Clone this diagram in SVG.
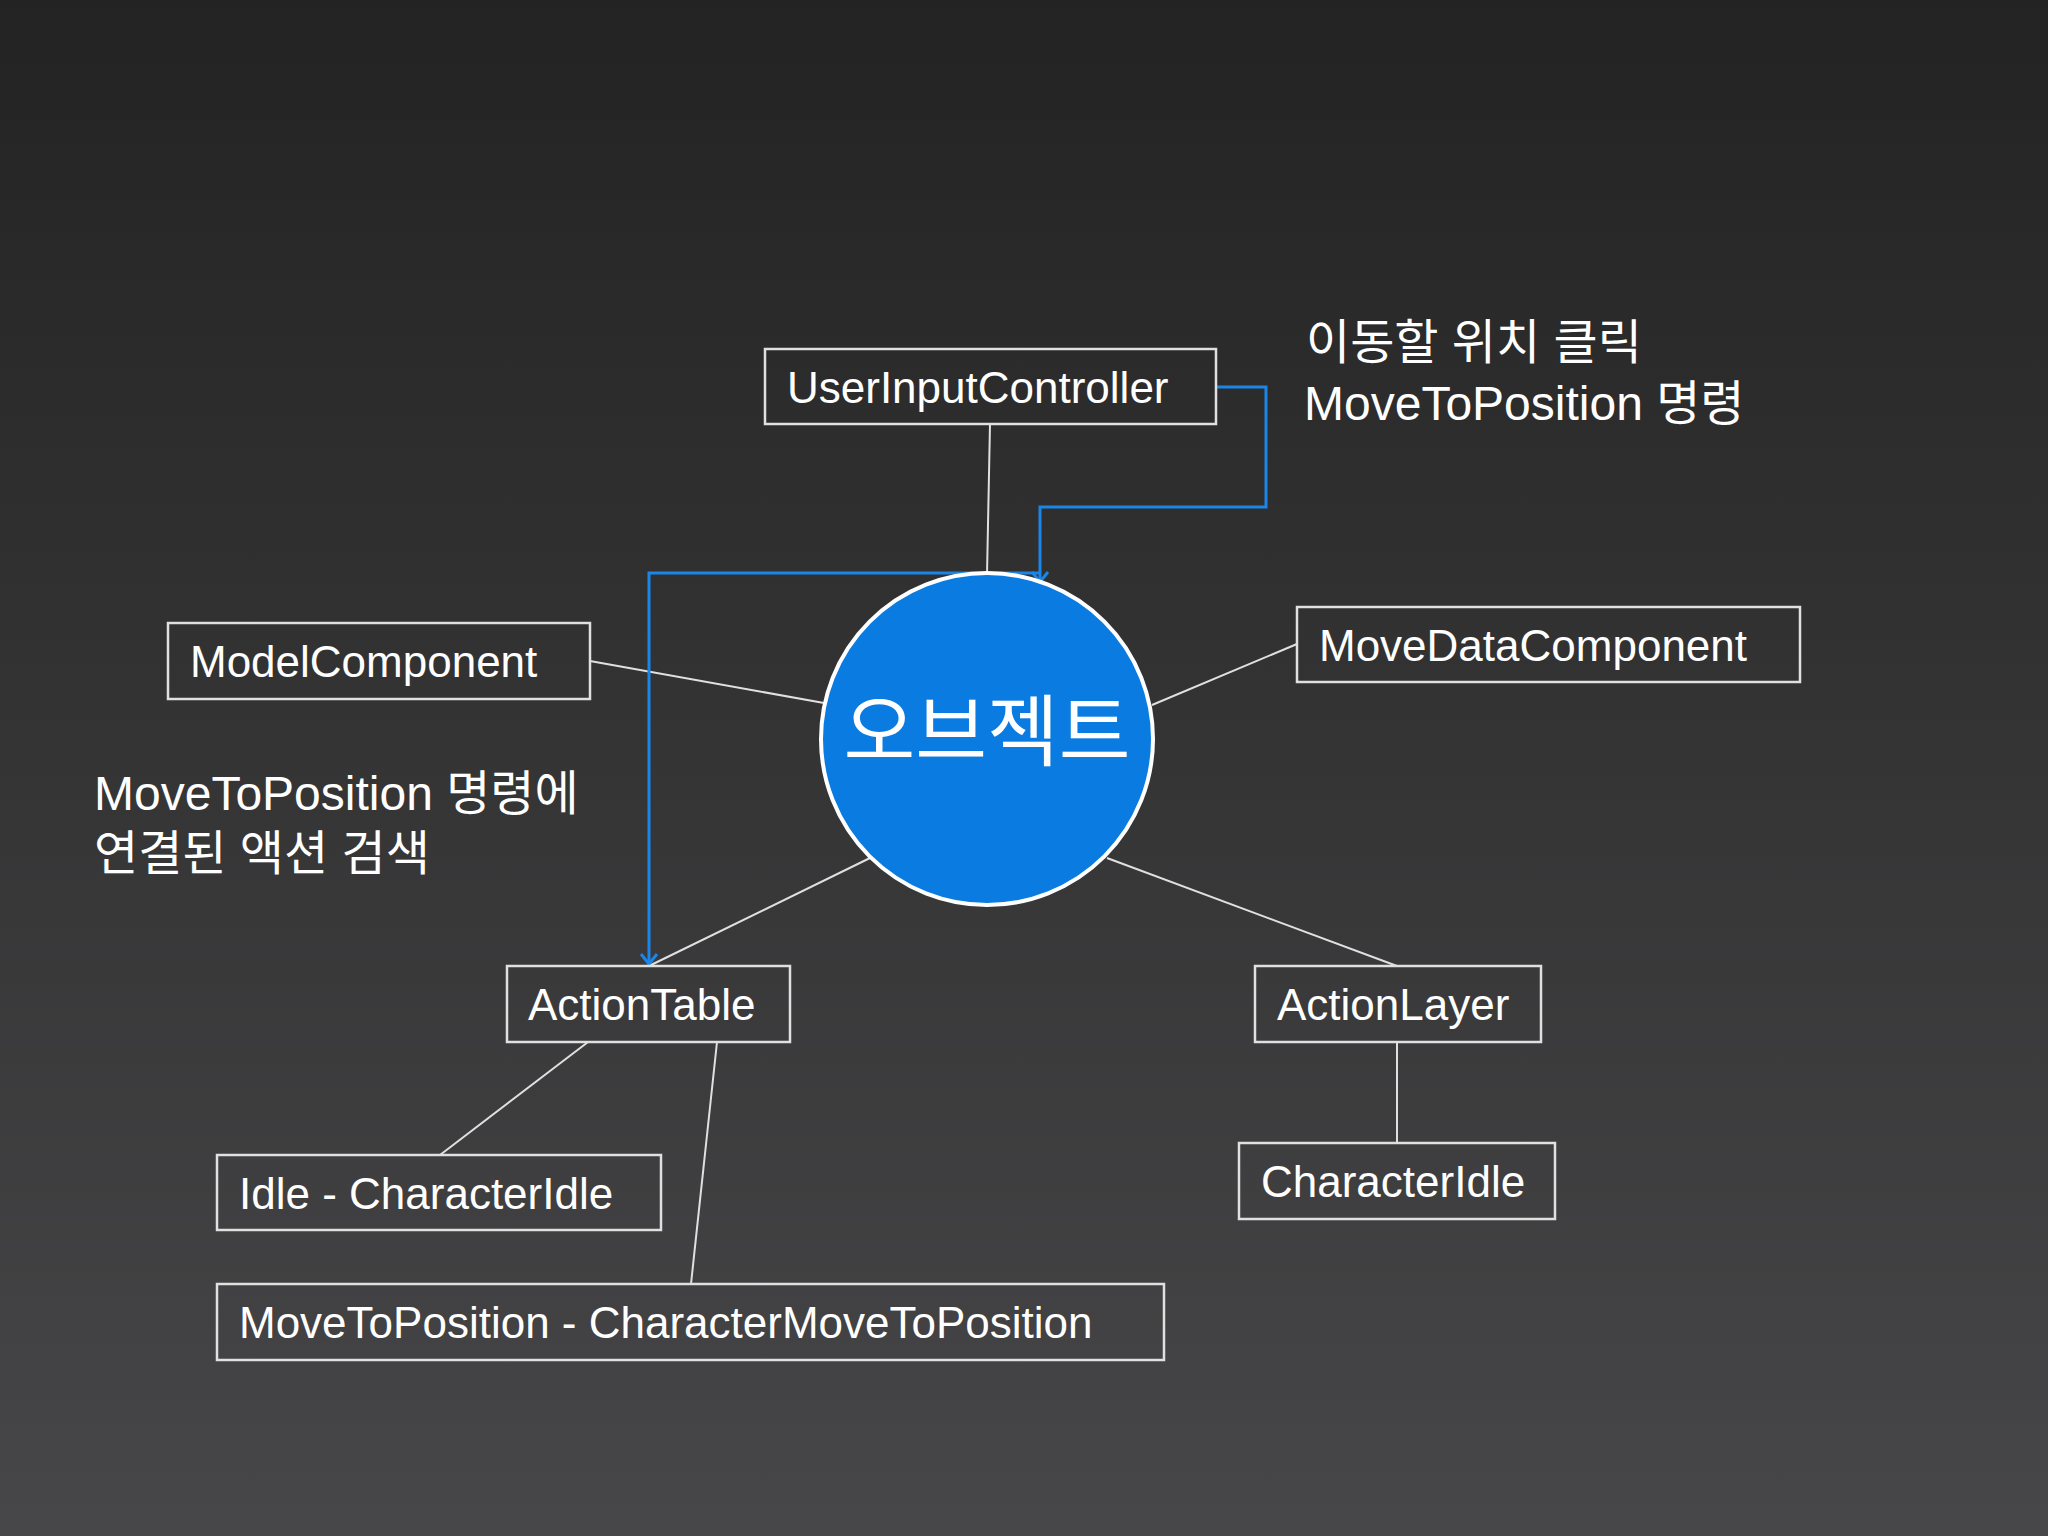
<svg xmlns="http://www.w3.org/2000/svg" width="2048" height="1536" viewBox="0 0 2048 1536">
<defs>
<linearGradient id="bg" x1="0" y1="0" x2="0" y2="1"><stop offset="0" stop-color="#232323"/><stop offset="1" stop-color="#474648"/></linearGradient>
<marker id="arr" markerWidth="20" markerHeight="20" refX="10" refY="18" orient="0" markerUnits="userSpaceOnUse"><polyline points="2,8 10,18 18,8" fill="none" stroke="#1a86e8" stroke-width="3"/></marker>
<style>
.box{fill:none;stroke:#e0e0e0;stroke-width:2.5}
.t{font-family:"Liberation Sans","Noto Sans CJK KR",sans-serif;font-size:44px;fill:#fff}
.ln{stroke:#e0e0e0;stroke-width:2;fill:none}
.bl{stroke:#1a86e8;stroke-width:3;fill:none;marker-end:url(#arr)}
</style>
</defs>
<rect width="2048" height="1536" fill="url(#bg)"/>
<g id="connectors">
<line class="ln" x1="990" y1="424" x2="987" y2="575"/>
<line class="ln" x1="590" y1="661" x2="824" y2="703"/>
<line class="ln" x1="1297" y1="644" x2="1152" y2="705"/>
<line class="ln" x1="649" y1="966" x2="870" y2="858"/>
<line class="ln" x1="1397" y1="966" x2="1107" y2="858"/>
<line class="ln" x1="588" y1="1042" x2="440" y2="1155"/>
<line class="ln" x1="717" y1="1042" x2="691" y2="1284"/>
<line class="ln" x1="1397" y1="1042" x2="1397" y2="1143"/>
<polyline class="bl" points="1216,387 1266,387 1266,507 1040,507 1040,582"/>
<polyline class="bl" points="1040,573 649,573 649,964"/>
</g>
<g id="object"><circle cx="987" cy="739" r="166" fill="#0a7be0" stroke="#fff" stroke-width="4"/>
<text x="987" y="760" text-anchor="middle" class="t" style="font-size:78px">오브젝트</text></g>
<g id="uic"><rect class="box" x="765" y="349" width="451" height="75"/><text class="t" x="787" y="403">UserInputController</text></g>
<g id="model"><rect class="box" x="168" y="623" width="422" height="76"/><text class="t" x="190" y="677">ModelComponent</text></g>
<g id="movedata"><rect class="box" x="1297" y="607" width="503" height="75"/><text class="t" x="1319" y="661">MoveDataComponent</text></g>
<g id="actiontable"><rect class="box" x="507" y="966" width="283" height="76"/><text class="t" x="528" y="1020">ActionTable</text></g>
<g id="actionlayer"><rect class="box" x="1255" y="966" width="286" height="76"/><text class="t" x="1277" y="1020">ActionLayer</text></g>
<g id="idle"><rect class="box" x="217" y="1155" width="444" height="75"/><text class="t" x="239" y="1209">Idle - CharacterIdle</text></g>
<g id="movetopos"><rect class="box" x="217" y="1284" width="947" height="76"/><text class="t" x="239" y="1338">MoveToPosition - CharacterMoveToPosition</text></g>
<g id="charidle"><rect class="box" x="1239" y="1143" width="316" height="76"/><text class="t" x="1261" y="1197">CharacterIdle</text></g>
<g id="labels">
<text class="t" x="1306" y="359" style="font-size:48px">이동할 위치 클릭</text>
<text class="t" x="1304" y="420" style="font-size:48px">MoveToPosition 명령</text>
<text class="t" x="94" y="810" style="font-size:48px">MoveToPosition 명령에</text>
<text class="t" x="94" y="870" style="font-size:48px">연결된 액션 검색</text>
</g>
</svg>
